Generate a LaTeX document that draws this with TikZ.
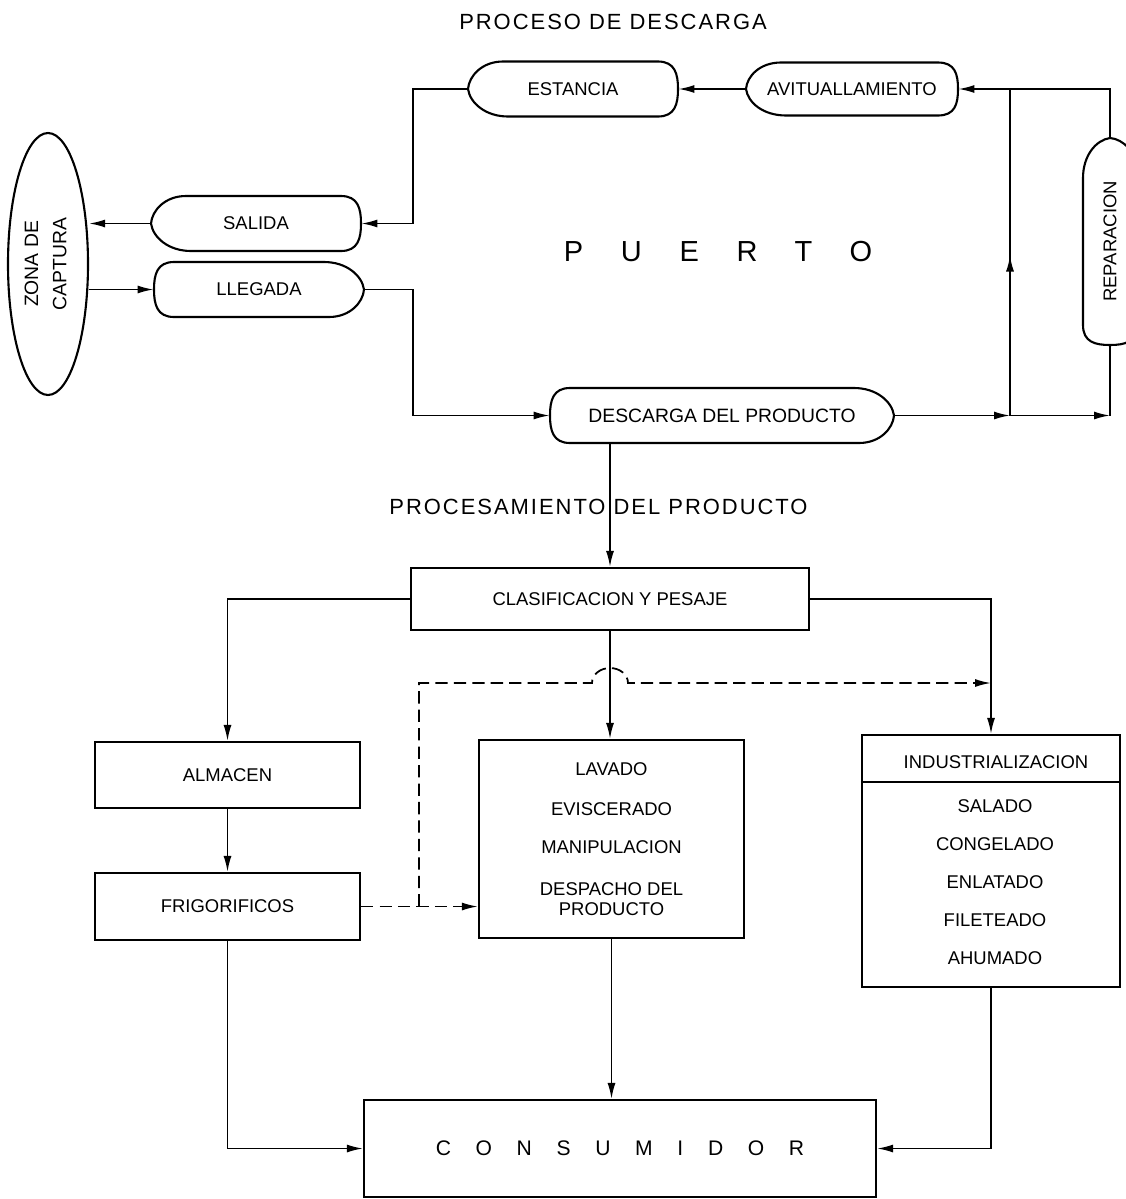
\documentclass[tikz,border=0pt]{standalone}
\usepackage{fontspec}
\setmainfont{Liberation Sans}
\usetikzlibrary{arrows.meta,positioning,shapes.geometric,calc}
\tikzset{
  boat/.style={inner sep=0pt,minimum height=1.1cm},
  boatline/.style={line width=1.2pt},
  box/.style={draw,line width=1.2pt,inner sep=0pt,align=center},
  link/.style={line width=1pt},
  arrow/.style={-{Latex[length=3.2mm,width=1.6mm]},line width=1pt},
  feed/.style={arrow,dash pattern=on 7pt off 3.5pt},
  title/.style={font=\fontsize{12.5}{15}\selectfont\addfontfeature{LetterSpace=9}},
  spaced/.style={font=\fontsize{12}{14}\selectfont\addfontfeature{LetterSpace=117}},
  list/.style={align=center,font=\fontsize{10.5}{11.4}\selectfont}
}
% bow shaped outline: node, turn, half length, half height
\newcommand{\boatoutline}[4]{%
  \draw[boatline,shift={(#1.center)},rotate=#2]
    (-#3+0.7,#4) .. controls (-#3+0.28,#4) and (-#3+0.02,0.26) .. (-#3,0)
    .. controls (-#3+0.04,-0.28) and (-#3+0.35,-#4) .. (-#3+0.8,-#4)
    -- (#3-0.4,-#4) .. controls (#3-0.06,-#4) and (#3,-0.3) .. (#3,0)
    .. controls (#3,0.3) and (#3-0.06,#4) .. (#3-0.4,#4) -- cycle;}

\begin{document}
\begin{tikzpicture}[font=\fontsize{10.5}{12}\selectfont]
\useasboundingbox (0,0) rectangle (22.52,-23.98);

% port
\node[title] (tit1) at (12.26,-0.44) {PROCESO DE DESCARGA};

\node[ellipse,draw,line width=1.2pt,minimum width=1.6cm,minimum height=5.24cm,
      inner sep=0pt,font=\fontsize{11}{12}\selectfont] (zona) at (0.96,-5.28)
  {\rotatebox{90}{\begin{tabular}{@{}c@{}}ZONA DE\\[4pt]CAPTURA\end{tabular}}};

\node[boat,minimum width=4.2cm] (salida) at (5.12,-4.47) {SALIDA};
\node[boat,minimum width=4.2cm] (llegada) at (5.18,-5.79) {LLEGADA};
\node[boat,minimum width=4.2cm] (estancia) at (11.46,-1.78) {ESTANCIA};
\node[boat,minimum width=4.24cm] (avitual) at (17.04,-1.78) {AVITUALLAMIENTO};
\node[boat,minimum width=6.88cm,font=\fontsize{11}{12}\selectfont] (descarga)
  at (14.44,-8.31) {DESCARGA DEL PRODUCTO};
\node[inner sep=0pt,minimum width=1.08cm,minimum height=4.14cm] (repara)
  at (22.2,-4.83) {\rotatebox{90}{REPARACION}};

\boatoutline{salida}{0}{2.1}{0.55}
\boatoutline{llegada}{180}{2.1}{0.55}
\boatoutline{estancia}{0}{2.1}{0.55}
\boatoutline{avitual}{0}{2.12}{0.53}
\boatoutline{descarga}{180}{3.44}{0.55}
\boatoutline{repara}{-90}{2.07}{0.54}

\node[font=\fontsize{16.5}{18}\selectfont\addfontfeature{LetterSpace=130}] (puerto)
  at (14.36,-5.04) {PUERTO};

\coordinate (bendS) at (8.26,-4.47);
\coordinate (bendL) at (8.26,-5.79);
\coordinate (jA) at (20.2,-8.31);
\coordinate (jB) at (22.2,-8.31);

\draw[arrow] (estancia.west) -| (bendS) -- (salida.east);
\draw[arrow] (salida.west) -- (salida.west -| zona.east);
\draw[arrow] (llegada.west -| zona.east) -- (llegada.west);
\draw[arrow] (llegada.east) -- (bendL) |- (descarga.west);
\draw[arrow] (avitual.west) -- (estancia.east);
\draw[arrow] (descarga.east) -- (jA);
\draw[arrow] (jA) -- (jB);
\draw[link] (jB) -- (repara.south);
\draw[arrow] (repara.north) |- (avitual.east);
\draw[link] (jA) -- (jA |- avitual.east);
\draw[arrow] (jA) -- ++(0,3.2);

% processing
\node[title] (tit2) at (11.97,-10.14) {PROCESAMIENTO DEL PRODUCTO};

\node[box,minimum width=7.96cm,minimum height=1.24cm] (clasif) at (12.2,-11.98)
  {CLASIFICACION Y PESAJE};
\node[box,minimum width=5.3cm,minimum height=1.32cm] (almacen) at (4.55,-15.5) {ALMACEN};
\node[box,minimum width=5.3cm,minimum height=1.34cm] (frigo) at (4.55,-18.13) {FRIGORIFICOS};
\node[box,list,minimum width=5.3cm,minimum height=3.96cm] (manejo) at (12.23,-16.78)
  {LAVADO\\[0.4cm]EVISCERADO\\[0.36cm]MANIPULACION\\[0.44cm]DESPACHO DEL\\PRODUCTO};
\node[box,minimum width=5.16cm,minimum height=5.04cm] (indus) at (19.82,-17.22) {};
\node (indhead) at (19.92,-15.24) {INDUSTRIALIZACION};
\draw[boatline] ([yshift=-0.96cm]indus.north west) -- ([yshift=-0.96cm]indus.north east);
\node[list] (indlist) at (19.9,-17.65)
  {SALADO\\[0.36cm]CONGELADO\\[0.36cm]ENLATADO\\[0.36cm]FILETEADO\\[0.36cm]AHUMADO};
\node[box,spaced,minimum width=10.24cm,minimum height=1.94cm] (consum) at (12.4,-22.97)
  {CONSUMIDOR};

\coordinate (dashB) at (8.38,-18.13);
\coordinate (dashT) at (8.38,-13.66);

\draw[arrow] (clasif.north |- descarga.south) -- (clasif.north);
\draw[arrow] (clasif.west) -| (almacen.north);
\draw[arrow] (clasif.east) -| (indus.north);
\draw[arrow] (clasif.south) -- (clasif.south |- manejo.north);
\draw[arrow] (almacen) -- (frigo);
\draw[feed] (frigo.east) -- (frigo.east -| manejo.west);
\draw[feed] (dashB) -- (dashT) -- ([xshift=-0.36cm]clasif.south |- dashT)
  arc[start angle=180,end angle=0,x radius=0.36cm,y radius=0.3cm]
  -- (indus.north |- dashT);
\draw[arrow] (manejo.south) -- (manejo.south |- consum.north);
\draw[arrow] (frigo.south) |- (consum.west);
\draw[arrow] (indus.south) |- (consum.east);

\end{tikzpicture}
\end{document}
